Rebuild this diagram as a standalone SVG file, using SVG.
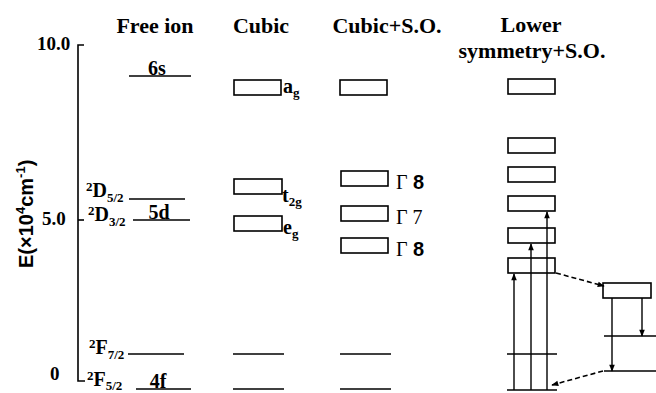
<svg xmlns="http://www.w3.org/2000/svg" width="656" height="393" viewBox="0 0 656 393">
<style>
.h{font-family:"Liberation Serif",serif;font-weight:bold;font-size:22px;fill:#000}
.t{font-family:"Liberation Serif",serif;font-weight:bold;font-size:20px;fill:#000}
.n{font-family:"Liberation Serif",serif;font-weight:bold;font-size:19px;fill:#000}
.g{font-family:"Liberation Sans",sans-serif;font-weight:bold;font-size:20px;fill:#000}
.gs{font-family:"Liberation Serif",serif;font-weight:normal;font-size:20px}
.ln{stroke:#000;stroke-width:1.6;fill:none}
.bx{stroke:#000;stroke-width:1.6;fill:#fff}
.ar{stroke:#000;stroke-width:1.4;fill:none;marker-end:url(#ah)}
.da{stroke:#000;stroke-width:1.6;fill:none;stroke-dasharray:5 3;marker-end:url(#ah)}
</style>
<defs>
<marker id="ah" viewBox="0 0 10 10" refX="9" refY="5" markerWidth="9" markerHeight="7" orient="auto" markerUnits="userSpaceOnUse">
<path d="M0,1 L10,5 L0,9 Z" fill="#000"/>
</marker>
</defs>
<rect width="656" height="393" fill="#fff"/>

<g id="axis">
<path class="ln" d="M84,45 H78 V381 H85"/>
<line class="ln" x1="78" y1="220" x2="84" y2="220"/>
<text class="n" x="37" y="50">10.0</text>
<text class="n" x="42" y="225">5.0</text>
<text class="n" x="50" y="380">0</text>
<text class="g" transform="translate(33,268) rotate(-90)" font-size="20">E(×10<tspan dy="-8" font-size="13">4</tspan><tspan dy="8">cm</tspan><tspan dy="-8" font-size="13">-1</tspan><tspan dy="8">)</tspan></text>
</g>

<g id="headers">
<text class="h" x="155" y="33" text-anchor="middle">Free ion</text>
<text class="h" x="261" y="33" text-anchor="middle">Cubic</text>
<text class="h" x="387" y="33" text-anchor="middle">Cubic+S.O.</text>
<text class="h" x="531" y="32" text-anchor="middle">Lower</text>
<text class="h" x="532" y="58" text-anchor="middle">symmetry+S.O.</text>
</g>

<g id="free-ion">
<line class="ln" x1="129" y1="76" x2="191" y2="76"/>
<text class="t" x="157" y="75" text-anchor="middle">6s</text>
<line class="ln" x1="129" y1="199" x2="185" y2="199"/>
<text class="t" x="86" y="197"><tspan dy="-6" font-size="13">2</tspan><tspan dy="6">D</tspan><tspan dy="5" font-size="13">5/2</tspan></text>
<line class="ln" x1="133" y1="220" x2="190" y2="220"/>
<text class="t" x="88" y="221"><tspan dy="-6" font-size="13">2</tspan><tspan dy="6">D</tspan><tspan dy="5" font-size="13">3/2</tspan></text>
<text class="t" x="159" y="219" text-anchor="middle">5d</text>
<line class="ln" x1="128" y1="354" x2="184" y2="354"/>
<text class="t" x="89" y="354"><tspan dy="-6" font-size="13">2</tspan><tspan dy="6">F</tspan><tspan dy="5" font-size="13">7/2</tspan></text>
<line class="ln" x1="136" y1="389" x2="191" y2="389"/>
<text class="t" x="87" y="386"><tspan dy="-6" font-size="13">2</tspan><tspan dy="6">F</tspan><tspan dy="4" font-size="13">5/2</tspan></text>
<text class="t" x="158" y="388" text-anchor="middle">4f</text>
</g>

<g id="cubic">
<rect class="bx" x="234" y="80" width="47" height="15"/>
<text class="t" x="283" y="93">a<tspan dy="4" font-size="13">g</tspan></text>
<rect class="bx" x="234" y="179" width="48" height="15"/>
<text class="t" x="282" y="202">t<tspan dy="4" font-size="13">2g</tspan></text>
<rect class="bx" x="234" y="216" width="48" height="15"/>
<text class="t" x="283" y="234">e<tspan dy="4" font-size="13">g</tspan></text>
<line class="ln" x1="233" y1="354" x2="284" y2="354"/>
<line class="ln" x1="233" y1="389" x2="284" y2="389"/>
</g>

<g id="cubic-so">
<rect class="bx" x="340" y="80" width="47" height="15"/>
<rect class="bx" x="341" y="171" width="47" height="15"/>
<text class="g" x="396" y="189"><tspan class="gs">Γ</tspan> 8</text>
<rect class="bx" x="341" y="206" width="47" height="15"/>
<text class="g" x="396" y="224"><tspan class="gs">Γ</tspan><tspan class="gs"> 7</tspan></text>
<rect class="bx" x="341" y="238" width="47" height="15"/>
<text class="g" x="396" y="256"><tspan class="gs">Γ</tspan> 8</text>
<line class="ln" x1="340" y1="354" x2="391" y2="354"/>
<line class="ln" x1="340" y1="389" x2="391" y2="389"/>
</g>

<g id="lower-sym">
<rect class="bx" x="508" y="79" width="47" height="15"/>
<rect class="bx" x="508" y="138" width="47" height="15"/>
<rect class="bx" x="508" y="167" width="47" height="15"/>
<rect class="bx" x="508" y="196" width="47" height="15"/>
<rect class="bx" x="508" y="228" width="47" height="15"/>
<rect class="bx" x="508" y="258" width="47" height="15"/>
<line class="ln" x1="507" y1="354" x2="557" y2="354"/>
<line class="ln" x1="507" y1="390" x2="557" y2="390"/>
</g>

<g id="emission">
<rect class="bx" x="603" y="283" width="48" height="15"/>
<line class="ln" x1="604" y1="336" x2="656" y2="336"/>
<line class="ln" x1="604" y1="371" x2="656" y2="371"/>
</g>

<g id="connectors">
<line class="ar" x1="514" y1="390" x2="514" y2="274"/>
<line class="ar" x1="531" y1="390" x2="531" y2="244"/>
<line class="ar" x1="547" y1="390" x2="547" y2="212"/>
<line class="da" x1="556" y1="273" x2="604" y2="286"/>
<line class="ar" x1="642" y1="298" x2="642" y2="336"/>
<line class="ar" x1="612" y1="298" x2="612" y2="371"/>
<line class="da" x1="603" y1="371" x2="552" y2="385"/>
</g>
</svg>
